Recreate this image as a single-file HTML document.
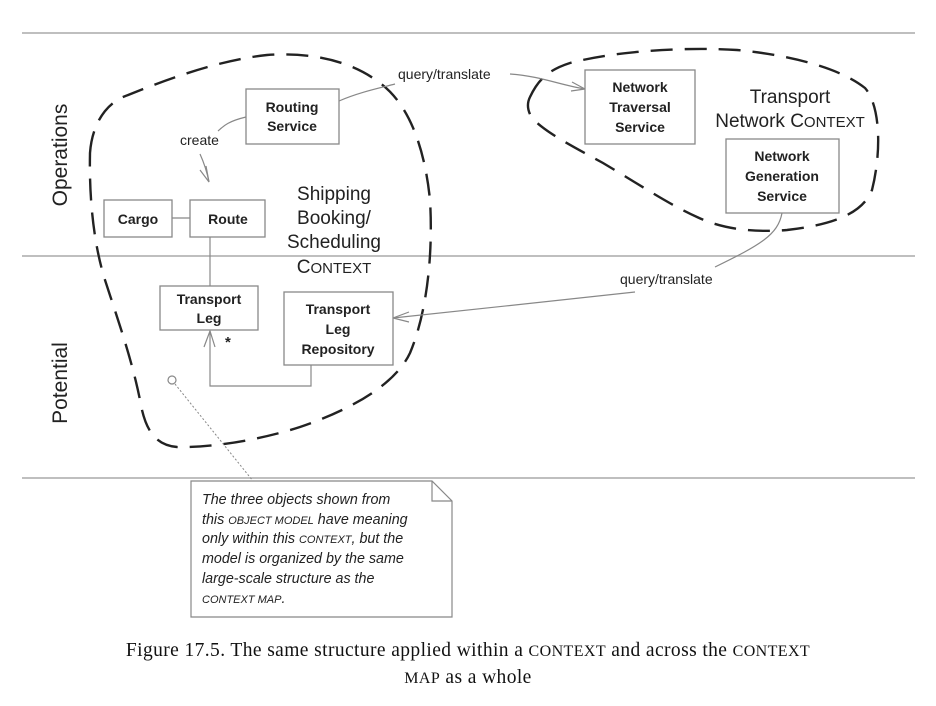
<!DOCTYPE html>
<html><head><meta charset="utf-8"><style>
body{margin:0;background:#fff;}
svg{display:block;}
text{font-family:"Liberation Sans",sans-serif;fill:#222;}
.b{font-weight:bold;font-size:14px;text-anchor:middle;}
.bx{fill:#fff;stroke:#888;stroke-width:1.3;}
.ln{fill:none;stroke:#888;stroke-width:1.2;}
.dash{fill:none;stroke:#222;stroke-width:2.4;stroke-dasharray:22 12;}
.n{font-style:italic;font-size:14.3px;}
.cap{font-family:"Liberation Serif",serif;font-size:19.5px;fill:#111;text-anchor:middle;letter-spacing:0.4px;}
</style></head><body>
<svg width="936" height="706" viewBox="0 0 936 706">
<rect width="936" height="706" fill="#fff"/>
<line x1="22" y1="33" x2="915" y2="33" stroke="#aaa" stroke-width="1.5"/>
<line x1="22" y1="256" x2="915" y2="256" stroke="#aaa" stroke-width="1.5"/>
<line x1="22" y1="478" x2="915" y2="478" stroke="#aaa" stroke-width="1.5"/>

<text x="67" y="155" font-size="21" text-anchor="middle" transform="rotate(-90 67 155)">Operations</text>
<text x="67" y="383" font-size="21" text-anchor="middle" transform="rotate(-90 67 383)">Potential</text>

<!-- blobs -->
<path class="dash" d="M90,153 C92,125 105,105 123,97 C170,78 220,60 267,55 C310,52 350,60 380,83 C410,105 425,150 430,200 C433,250 428,310 410,353 C395,385 350,410 300,427 C260,440 210,448 177,447 C155,445 145,430 140,400 C132,360 118,320 105,280 C94,245 89,200 90,153 Z"/>
<path class="dash" d="M530,97 C538,80 548,70 570,63 C620,50 690,47 737,50 C790,55 840,68 865,88 C880,105 882,150 872,190 C862,215 830,225 787,230 C750,233 720,228 697,217 C670,205 640,185 603,163 C570,145 545,132 532,118 C527,110 527,103 530,97 Z"/>

<!-- connectors -->
<path class="ln" d="M339,101 C360,92 380,88 395,84"/>
<path class="ln" d="M510,74 C540,76 560,85 585,89"/>
<path class="ln" d="M572,82 L585,89 L571,91"/>
<path class="ln" d="M246,117 C225,122 222,128 218,131"/>
<path class="ln" d="M200,154 C205,165 207,172 209,182"/>
<path class="ln" d="M200,170 L209,182 L206,166"/>
<line class="ln" x1="172" y1="218" x2="190" y2="218"/>
<line class="ln" x1="210" y1="237" x2="210" y2="286"/>
<path class="ln" d="M311,365 L311,386 L210,386 L210,331"/>
<path class="ln" d="M204,347 L210,331 L215,347"/>
<path class="ln" d="M782,213 C778,235 760,245 715,267"/>
<path class="ln" d="M635,292 C560,300 470,310 393,318"/>
<path class="ln" d="M409,312 L393,318 L409,322"/>
<circle cx="172" cy="380" r="4" fill="#fff" stroke="#888" stroke-width="1.2"/>
<line x1="175" y1="384" x2="253" y2="481" stroke="#888" stroke-width="1" stroke-dasharray="2 2"/>

<text x="398" y="79" font-size="14">query/translate</text>
<text x="180" y="145" font-size="14">create</text>
<text x="620" y="284" font-size="14">query/translate</text>

<!-- boxes -->
<rect class="bx" x="246" y="89" width="93" height="55"/>
<text class="b" x="292" y="112">Routing</text><text class="b" x="292" y="131">Service</text>
<rect class="bx" x="104" y="200" width="68" height="37"/>
<text class="b" x="138" y="224">Cargo</text>
<rect class="bx" x="190" y="200" width="75" height="37"/>
<text class="b" x="228" y="224">Route</text>
<rect class="bx" x="160" y="286" width="98" height="44"/>
<text class="b" x="209" y="304">Transport</text><text class="b" x="209" y="323">Leg</text>
<rect class="bx" x="284" y="292" width="109" height="73"/>
<text class="b" x="338" y="314">Transport</text><text class="b" x="338" y="334">Leg</text><text class="b" x="338" y="354">Repository</text>
<text x="225" y="347" font-size="15" font-weight="bold">*</text>
<rect class="bx" x="585" y="70" width="110" height="74"/>
<text class="b" x="640" y="92">Network</text><text class="b" x="640" y="112">Traversal</text><text class="b" x="640" y="132">Service</text>
<rect class="bx" x="726" y="139" width="113" height="74"/>
<text class="b" x="782" y="161">Network</text><text class="b" x="782" y="181">Generation</text><text class="b" x="782" y="201">Service</text>

<g font-size="19" text-anchor="middle">
<text x="334" y="200">Shipping</text>
<text x="334" y="224">Booking/</text>
<text x="334" y="248">Scheduling</text>
<text x="334" y="273">C<tspan font-size="15">ONTEXT</tspan></text>
<text x="790" y="103">Transport</text>
<text x="790" y="127">Network C<tspan font-size="15">ONTEXT</tspan></text>
</g>

<!-- note -->
<path d="M191,481 L432,481 L452,501 L452,617 L191,617 Z" fill="#fff" stroke="#888" stroke-width="1.2"/>
<path d="M432,481 L432,501 L452,501" fill="none" stroke="#888" stroke-width="1.2"/>
<g class="n">
<text class="n" x="202" y="504">The three objects shown from</text>
<text class="n" x="202" y="524">this <tspan font-size="11">OBJECT MODEL</tspan> have meaning</text>
<text class="n" x="202" y="543">only within this <tspan font-size="11">CONTEXT</tspan>, but the</text>
<text class="n" x="202" y="563">model is organized by the same</text>
<text class="n" x="202" y="583">large-scale structure as the</text>
<text class="n" x="202" y="603"><tspan font-size="11">CONTEXT MAP</tspan>.</text>
</g>

<text class="cap" x="468" y="656">Figure 17.5. The same structure applied within a <tspan font-size="16">CONTEXT</tspan> and across the <tspan font-size="16">CONTEXT</tspan></text>
<text class="cap" x="468" y="683"><tspan font-size="16">MAP</tspan> as a whole</text>
</svg>
</body></html>
